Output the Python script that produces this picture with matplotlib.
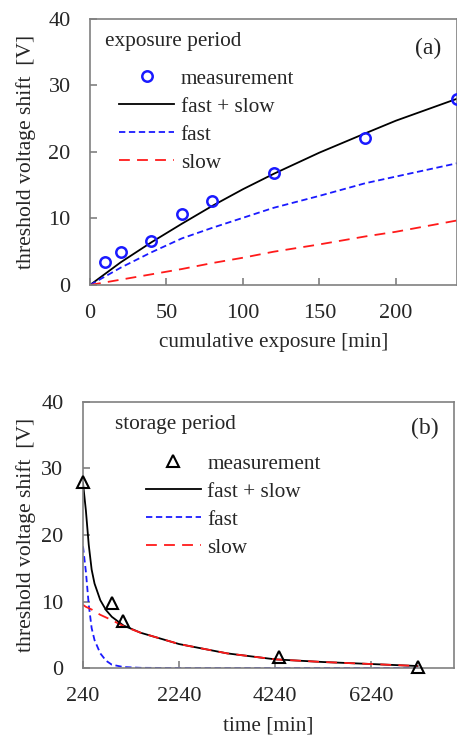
import numpy as np
import matplotlib
matplotlib.use('Agg')
import matplotlib.pyplot as plt

plt.rcParams['font.family'] = ['Liberation Serif', 'DejaVu Serif']
plt.rcParams['font.size'] = 15.3

# (a) exposure period
exp_meas_t = [10, 20, 40, 60, 80, 120, 180, 240]
exp_meas_v = [3.5, 4.9, 6.6, 10.7, 12.6, 16.8, 22.1, 28.0]
exp_t = [0, 20, 40, 60, 80, 100, 120, 150, 180, 200, 240]
exp_total = [0, 3.4, 6.4, 9.2, 11.9, 14.4, 16.7, 19.9, 22.8, 24.7, 28.0]
exp_fast = [0, 2.6, 4.9, 7.0, 8.6, 10.1, 11.6, 13.4, 15.3, 16.3, 18.3]
exp_slow = [0, 0.8, 1.6, 2.4, 3.3, 4.1, 5.0, 6.1, 7.3, 8.0, 9.7]

# (b) storage period
sto_meas_t = [240, 840, 1080, 4320, 7200]
sto_meas_v = [27.9, 9.7, 7.1, 1.6, 0.2]
sto_t = [240, 300, 360, 420, 480, 600, 720, 840, 1080, 1440, 2240, 3240, 4240, 5240, 6240, 7200]
sto_total = [27.8, 23.7, 18.5, 14.8, 12.7, 10.2, 8.7, 7.7, 6.4, 5.3, 3.6, 2.2, 1.3, 0.9, 0.6, 0.3]
sto_fast = [18.3, 14.5, 9.5, 6.0, 4.2, 2.2, 1.1, 0.5, 0.15, 0.03, 0, 0, 0, 0, 0, 0]
sto_slow = [9.5, 9.2, 9.0, 8.8, 8.5, 8.0, 7.6, 7.2, 6.3, 5.3, 3.6, 2.2, 1.3, 0.9, 0.6, 0.3]

fig = plt.figure(figsize=(4.57, 7.37), dpi=100)
ax1 = fig.add_axes([0.197, 0.6133, 0.803, 0.361])
ax2 = fig.add_axes([0.1816, 0.0936, 0.812, 0.361])

spine_col = '#808080'
text_col = '#262626'


def style(ax, ylabelpad):
    for s in ax.spines.values():
        s.set_color(spine_col)
        s.set_linewidth(1.2)
    ax.tick_params(direction='in', length=5, width=1.2, color=spine_col,
                   labelcolor=text_col, labelsize=16, pad=14, top=False, right=False)
    ax.set_ylim(0, 40)
    ax.set_yticks([0, 10, 20, 30, 40])
    ax.set_ylabel('threshold voltage shift  [V]', color=text_col, labelpad=ylabelpad,
                  fontsize=15.6)


blue_dash = (0, (3.5, 2))
red_dash = (0, (6, 4))
leg_kw = dict(loc='upper left', frameon=False, handlelength=2.6, handletextpad=0.3,
              labelspacing=0.38, borderpad=0, labelcolor=text_col)

ax1.plot(exp_meas_t, exp_meas_v, 'o', ms=7.5, mfc='none', mec='#1a1aff', mew=1.8,
         label='measurement', clip_on=True, zorder=5)
ax1.plot(exp_t, exp_total, color='black', lw=1.3, label='fast + slow')
ax1.plot(exp_t, exp_fast, color='#1a1aff', lw=1.3, linestyle=blue_dash, label='fast')
ax1.plot(exp_t, exp_slow, color='#ff1a1a', lw=1.3, linestyle=red_dash, label='slow')
ax1.set_xlim(0, 240)
ax1.set_xticks([0, 50, 100, 150, 200])
ax1.set_xlabel('cumulative exposure [min]', color=text_col, labelpad=7)
style(ax1, 9)
ax1.text(0.04, 0.915, 'exposure period', transform=ax1.transAxes, va='center', color=text_col)
ax1.text(0.92, 0.89, '(a)', transform=ax1.transAxes, va='center', ha='center',
         fontsize=17, color=text_col)
ax1.legend(bbox_to_anchor=(0.05, 0.852), **leg_kw)

ax2.plot(sto_meas_t, sto_meas_v, '^', ms=9, mfc='none', mec='black', mew=1.5,
         label='measurement', clip_on=False, zorder=5)
ax2.plot(sto_t, sto_total, color='black', lw=1.3, label='fast + slow')
ax2.plot(sto_t, sto_fast, color='#1a1aff', lw=1.3, linestyle=blue_dash, label='fast')
ax2.plot(sto_t, sto_slow, color='#ff1a1a', lw=1.3, linestyle=red_dash, label='slow')
ax2.set_xlim(240, 7960)
ax2.set_xticks([240, 2240, 4240, 6240])
ax2.set_xlabel('time [min]', color=text_col, labelpad=7)
style(ax2, 4)
ax2.text(0.085, 0.915, 'storage period', transform=ax2.transAxes, va='center', color=text_col)
ax2.text(0.92, 0.9, '(b)', transform=ax2.transAxes, va='center', ha='center',
         fontsize=17, color=text_col)
ax2.legend(bbox_to_anchor=(0.14, 0.845), **leg_kw)

fig.savefig('out.png', dpi=100)
